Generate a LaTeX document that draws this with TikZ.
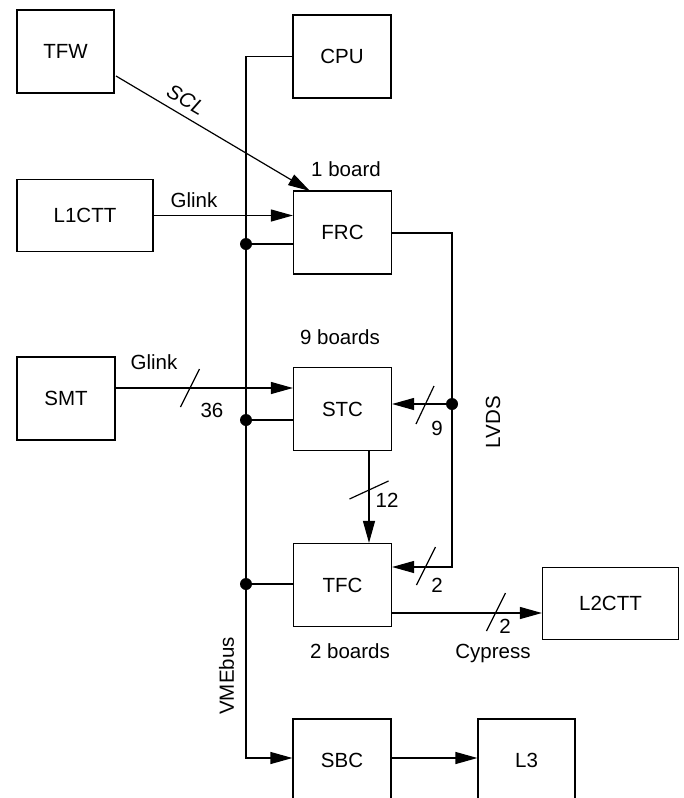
\documentclass[tikz,border=0pt]{standalone}
\usepackage{fontspec}
\setmainfont{Liberation Sans}
\usetikzlibrary{arrows.meta}
\begin{document}
\begin{tikzpicture}[x=1pt,y=-1pt, line width=1.2pt,
  box/.style={draw, line width=1.2pt, inner sep=0pt, minimum width=98pt, minimum height=83pt, font=\fontsize{20.5}{24}\selectfont},
  wbox/.style={box, minimum width=136pt, minimum height=72pt},
  lbl/.style={inner sep=0pt, anchor=base, font=\fontsize{20.5}{24}\selectfont},
  rlbl/.style={inner sep=0pt, rotate=90, font=\fontsize{20.5}{24}\selectfont},
  arr/.style={-{Triangle[length=22pt,width=12pt]}},
  dotn/.style={circle, fill, inner sep=0pt, minimum size=12pt},
  slash/.style={line width=1.2pt}]
\clip (0,0) rectangle (684,798);
% boxes
\node[box, minimum width=97pt] (TFW) at (65.5,51.5) {TFW};
\node[box] (CPU) at (342,56.5) {CPU};
\node[wbox] (L1CTT) at (85,215.5) {L1CTT};
\node[box] (FRC) at (342.5,232.5) {FRC};
\node[box] (SMT) at (66,398.5) {SMT};
\node[box] (STC) at (342.5,409) {STC};
\node[box] (TFC) at (342.5,585) {TFC};
\node[wbox] (L2CTT) at (610.5,603.5) {L2CTT};
\node[box] (SBC) at (342,760.5) {SBC};
\node[box, minimum width=97pt] (L3) at (526.5,760.5) {L3};
% helper coordinates
\coordinate (busx) at (246,0);
\coordinate (smto) at (115,388);
\coordinate (sbcy) at (0,758);
\coordinate (tfco) at (0,613);
\coordinate (frcin) at (310,191);
\coordinate (tfwo) at (116,76);
\coordinate (lvt) at (452,233);
\coordinate (lvb) at (452,567);
\coordinate (cx) at (369,0);
% VME bus
\draw[arr] (CPU.west) -- (CPU.west -| busx) -- (sbcy -| busx) -- (sbcy -| SBC.west);
\node[dotn] (d1) at (246,244) {};
\node[dotn] (d2) at (246,420) {};
\node[dotn] (d3) at (246,584) {};
\draw (d1.center) -- (d1 -| FRC.west);
\draw (d2.center) -- (d2 -| STC.west);
\draw (d3.center) -- (d3 -| TFC.west);
% SCL
\draw[arr] (tfwo) -- (frcin);
\node[inner sep=0pt, rotate=-30.4, font=\fontsize{20.5}{24}\selectfont\itshape] (scl) at (186,100) {SCL};
% Glink L1CTT
\draw[arr] (L1CTT.east) -- (L1CTT.east -| FRC.west);
\node[lbl] (gl1) at (194,207) {Glink};
% Glink SMT
\draw[arr] (smto) -- (smto -| STC.west);
\node[lbl] (gl2) at (154,369) {Glink};
\coordinate (s36) at (190,388);
\draw[slash] ([shift={(-9.5,19)}]s36) -- ([shift={(9.5,-19)}]s36);
\node[lbl] (n36) at (212,417) {36};
% LVDS
\draw[arr] (FRC.east |- lvt) -- (lvt) -- (lvb) -- (lvb -| TFC.east);
\node[dotn] (d4) at (452,404) {};
\draw[arr] (d4.center) -- (d4 -| STC.east);
\coordinate (s9) at (425,405);
\draw[slash] ([shift={(-9,19)}]s9) -- ([shift={(9,-19)}]s9);
\node[lbl] (n9) at (437,435) {9};
\coordinate (s2a) at (426,566);
\draw[slash] ([shift={(-9.5,19)}]s2a) -- ([shift={(9.5,-19)}]s2a);
\node[lbl] (n2a) at (437,592) {2};
\node[rlbl] (lvds) at (493,422) {LVDS};
% STC -> TFC
\draw[arr] (STC.south -| cx) -- (TFC.north -| cx);
\coordinate (s12) at (369,490);
\draw[slash] ([shift={(-19.5,9)}]s12) -- ([shift={(19.5,-9)}]s12);
\node[lbl] (n12) at (387,507) {12};
% TFC -> L2CTT
\draw[arr] (tfco -| TFC.east) -- (tfco -| L2CTT.west);
\coordinate (s2b) at (496,612);
\draw[slash] ([shift={(-9.5,19)}]s2b) -- ([shift={(9.5,-19)}]s2b);
\node[lbl] (n2b) at (505,633) {2};
% SBC -> L3
\draw[arr] (sbcy -| SBC.east) -- (sbcy -| L3.west);
% labels
\node[lbl] (b1) at (346,176) {1 board};
\node[lbl] (b9) at (340,344) {9 boards};
\node[lbl] (b2) at (350,658) {2 boards};
\node[lbl] (cyp) at (493,658) {Cypress};
\node[rlbl] (vme) at (226.5,676) {VMEbus};
\end{tikzpicture}
\end{document}
